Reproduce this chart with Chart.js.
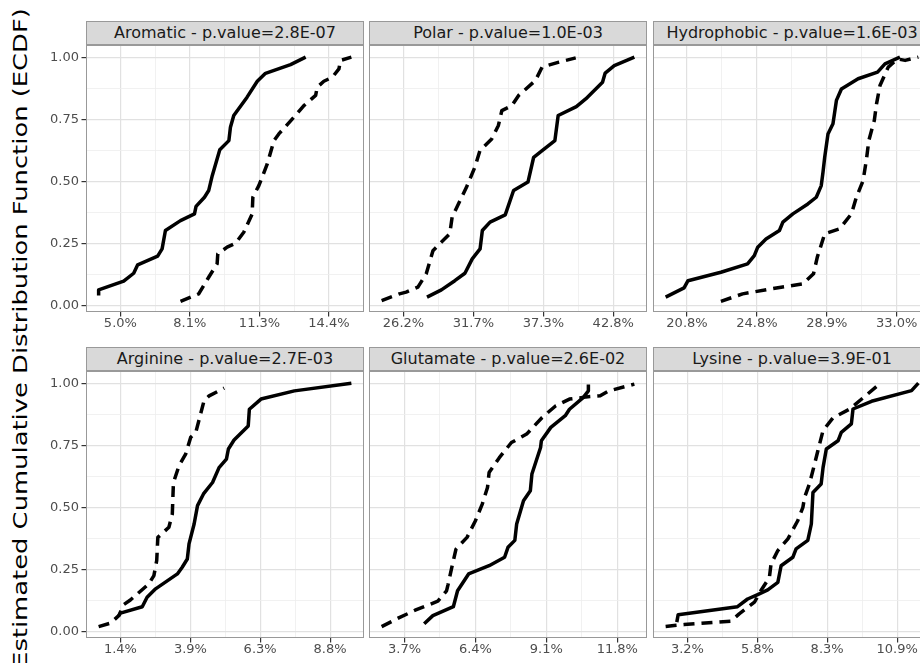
<!DOCTYPE html>
<html>
<head>
<meta charset="utf-8">
<script src="https://cdn.jsdelivr.net/npm/chart.js@4"></script>
<style>
  html, body { margin: 0; padding: 0; background: #fff; width: 920px; height: 663px; overflow: hidden; }
  #wrap { position: relative; width: 940px; height: 663px; font-family: "DejaVu Sans", sans-serif; }
  .strip {
    position: absolute; height: 24px; background: #d9d9d9; border: 1px solid #999;
    box-sizing: border-box; text-align: center; font-size: 16px; line-height: 22px;
    color: #1a1a1a; white-space: nowrap; overflow: hidden;
  }
  .panel { position: absolute; }
  #ytitle {
    position: absolute; width: 720px; height: 26px; left: -340px; top: 325px;
    transform: rotate(-90deg) scaleX(1.29); text-align: center; font-size: 20px; line-height: 26px;
    color: #000; white-space: nowrap;
  }
</style>
</head>
<body>
<div id="wrap">
  <div id="ytitle">Estimated Cumulative Distribution Function (ECDF)</div>
</div>
<script>
// panel titles (facet strips)
const panelTitles = [
  'Aromatic - p.value=2.8E-07',
  'Polar - p.value=1.0E-03',
  'Hydrophobic - p.value=1.6E-03',
  'Arginine - p.value=2.7E-03',
  'Glutamate - p.value=2.6E-02',
  'Lysine - p.value=3.9E-01'
];

// x breaks (percent) and their labels, per panel
const xTickValues = [
  [5.0, 8.13, 11.27, 14.4],
  [26.2, 31.73, 37.27, 42.8],
  [20.78, 24.84, 28.90, 32.96],
  [1.4, 3.87, 6.33, 8.8],
  [3.7, 6.4, 9.1, 11.8],
  [3.2, 5.77, 8.33, 10.9]
];
const xTickLabels = [
  ['5.0%', '8.1%', '11.3%', '14.4%'],
  ['26.2%', '31.7%', '37.3%', '42.8%'],
  ['20.8%', '24.8%', '28.9%', '33.0%'],
  ['1.4%', '3.9%', '6.3%', '8.8%'],
  ['3.7%', '6.4%', '9.1%', '11.8%'],
  ['3.2%', '5.8%', '8.3%', '10.9%']
];
const yTickValues = [0, 0.25, 0.5, 0.75, 1];
const yTickLabels = ['0.00', '0.25', '0.50', '0.75', '1.00'];

// ECDF curves [x %, F(x)] – solid group and dashed group
const aromaticSolid = [[4.02,0.04],[4.02,0.063],[5.15,0.098],[5.6,0.13],[5.78,0.164],[6.68,0.199],[6.88,0.228],[7.03,0.302],[7.71,0.342],[8.34,0.369],[8.41,0.399],[8.79,0.436],[8.98,0.463],[9.14,0.523],[9.48,0.627],[9.89,0.664],[9.96,0.718],[10.11,0.765],[10.71,0.839],[11.17,0.903],[11.54,0.935],[12.67,0.97],[13.35,1.0]];
const aromaticDashed = [[7.71,0.017],[8.53,0.047],[8.98,0.114],[9.36,0.168],[9.39,0.208],[9.81,0.235],[10.19,0.251],[10.56,0.295],[10.94,0.369],[10.97,0.436],[11.24,0.483],[11.62,0.57],[11.92,0.664],[12.14,0.691],[12.82,0.758],[13.27,0.805],[13.8,0.846],[13.87,0.879],[14.17,0.903],[14.55,0.919],[14.85,0.953],[14.92,0.987],[15.41,1.0]];

const polarSolid = [[28.06,0.034],[29.2,0.063],[30.26,0.1],[31.06,0.13],[31.64,0.188],[32.26,0.228],[32.44,0.302],[33.05,0.336],[34.25,0.365],[34.91,0.463],[36.05,0.497],[36.5,0.597],[37.17,0.624],[38.18,0.664],[38.44,0.765],[39.88,0.801],[40.62,0.832],[41.95,0.899],[42.16,0.936],[42.88,0.966],[44.47,1.0]];
const polarDashed = [[24.47,0.02],[25.88,0.047],[26.41,0.054],[27.34,0.074],[28.0,0.128],[28.53,0.221],[29.86,0.289],[30.05,0.356],[31.19,0.477],[31.85,0.557],[32.25,0.624],[33.18,0.671],[33.71,0.725],[33.98,0.785],[34.78,0.805],[35.31,0.846],[36.64,0.906],[37.17,0.96],[38.5,0.98],[39.83,0.997]];

const hydrophobicSolid = [[19.54,0.034],[20.61,0.071],[20.84,0.1],[22.75,0.134],[24.3,0.168],[24.69,0.201],[24.89,0.235],[25.37,0.268],[26.15,0.302],[26.35,0.336],[26.93,0.369],[27.8,0.409],[28.29,0.436],[28.58,0.483],[28.68,0.537],[28.78,0.597],[28.97,0.691],[29.26,0.732],[29.46,0.826],[29.75,0.872],[30.72,0.913],[31.85,0.94],[32.28,0.973],[33.15,1.0]];
const hydrophobicDashed = [[22.75,0.017],[24.01,0.047],[26.25,0.074],[27.51,0.087],[28.13,0.128],[28.35,0.195],[28.78,0.289],[29.65,0.309],[30.33,0.369],[30.62,0.436],[31.01,0.503],[31.21,0.591],[31.34,0.664],[31.66,0.745],[31.79,0.812],[31.99,0.886],[32.47,0.96],[33.02,0.993],[33.45,0.987],[34.22,1.0]];

const arginineSolid = [[1.34,0.064],[1.4,0.074],[2.17,0.1],[2.34,0.138],[2.64,0.172],[3.41,0.232],[3.58,0.259],[3.76,0.292],[3.82,0.353],[4.0,0.433],[4.12,0.507],[4.33,0.554],[4.65,0.6],[4.88,0.66],[5.14,0.694],[5.21,0.735],[5.41,0.771],[5.91,0.828],[5.95,0.895],[6.36,0.936],[7.54,0.969],[9.55,1.0]];
const arginineDashed = [[0.63,0.02],[1.05,0.034],[1.34,0.064],[1.52,0.109],[1.75,0.127],[2.4,0.192],[2.58,0.225],[2.68,0.286],[2.72,0.379],[3.11,0.42],[3.23,0.473],[3.27,0.6],[3.47,0.668],[3.7,0.714],[3.88,0.782],[4.06,0.802],[4.35,0.929],[4.53,0.949],[5.06,0.98]];

const glutamateSolid = [[4.45,0.031],[4.78,0.064],[5.56,0.1],[5.72,0.164],[6.14,0.232],[6.92,0.265],[7.51,0.299],[7.64,0.339],[7.9,0.367],[7.97,0.433],[8.23,0.527],[8.49,0.567],[8.55,0.634],[8.88,0.741],[8.91,0.768],[9.27,0.822],[9.82,0.869],[9.98,0.895],[10.5,0.942],[10.7,0.969],[10.7,0.995]];
const glutamateDashed = [[2.83,0.02],[3.48,0.055],[4.13,0.087],[4.97,0.122],[5.3,0.164],[5.36,0.19],[5.53,0.272],[5.66,0.332],[6.08,0.379],[6.4,0.446],[6.66,0.513],[6.86,0.58],[6.92,0.64],[7.31,0.7],[7.77,0.761],[8.35,0.795],[8.94,0.862],[9.46,0.909],[9.98,0.936],[10.76,0.946],[11.15,0.949],[11.48,0.969],[12.45,0.996]];

const lysineSolid = [[2.81,0.038],[2.86,0.068],[5.04,0.1],[5.41,0.131],[5.78,0.149],[6.15,0.168],[6.52,0.198],[6.64,0.265],[7.07,0.299],[7.19,0.333],[7.62,0.367],[7.75,0.433],[7.81,0.56],[8.11,0.594],[8.18,0.66],[8.3,0.735],[8.73,0.768],[8.85,0.802],[9.22,0.836],[9.28,0.896],[9.96,0.927],[11.43,0.97],[11.68,1.0]];
const lysineDashed = [[2.4,0.02],[2.71,0.024],[3.08,0.028],[4.8,0.042],[5.1,0.071],[5.66,0.118],[5.9,0.165],[6.21,0.218],[6.27,0.272],[6.52,0.326],[6.89,0.373],[7.25,0.446],[7.44,0.5],[7.5,0.54],[7.68,0.594],[7.87,0.675],[7.99,0.728],[8.18,0.809],[8.54,0.86],[9.16,0.896],[10.26,0.997]];

const solidSeries = [aromaticSolid, polarSolid, hydrophobicSolid, arginineSolid, glutamateSolid, lysineSolid];
const dashedSeries = [aromaticDashed, polarDashed, hydrophobicDashed, arginineDashed, glutamateDashed, lysineDashed];

// layout
const colLeft = [86, 369, 653];
const rowTop = [45, 371];
const panelW = 278, panelH = 267;
const yAxisW = 40, xAxisH = 28, stripH = 24;
const Y_MIN = -0.026, Y_MAX = 1.049;

const wrap = document.getElementById('wrap');

// panel border drawn above the data, like ggplot
const panelBorder = {
  id: 'panelBorder',
  afterDraw(chart) {
    const a = chart.chartArea, ctx = chart.ctx;
    ctx.save();
    ctx.strokeStyle = '#999';
    ctx.lineWidth = 1;
    ctx.strokeRect(a.left + 0.5, a.top + 0.5, a.right - a.left - 1, a.bottom - a.top - 1);
    ctx.restore();
  }
};

function withMinors(majors, min, max) {
  const step = majors[1] - majors[0];
  const vals = majors.slice();
  for (let k = 0; k < majors.length - 1; k++) vals.push((majors[k] + majors[k + 1]) / 2);
  vals.push(majors[0] - step / 2, majors[majors.length - 1] + step / 2);
  return vals.filter(v => v >= min && v <= max).sort((a, b) => a - b).map(v => ({ value: v }));
}

function gridStyle(majors) {
  const isMajor = c => c.tick && majors.includes(c.tick.value);
  return {
    color: c => isMajor(c) ? '#e1e1e1' : '#eeeeee',
    lineWidth: c => isMajor(c) ? 1.2 : 0.8,
    tickColor: c => isMajor(c) ? '#333' : 'rgba(0,0,0,0)',
    tickLength: 4.5
  };
}

panelTitles.forEach((title, i) => {
  const col = i % 3, row = Math.floor(i / 3);
  const left = col === 0;

  const strip = document.createElement('div');
  strip.className = 'strip';
  strip.style.left = colLeft[col] + 'px';
  strip.style.top = (rowTop[row] - stripH) + 'px';
  strip.style.width = panelW + 'px';
  strip.textContent = title;
  wrap.appendChild(strip);

  const canvas = document.createElement('canvas');
  canvas.className = 'panel';
  const w = panelW + (left ? yAxisW : 0);
  const h = panelH + xAxisH;
  canvas.width = w;
  canvas.height = h;
  canvas.style.left = (colLeft[col] - (left ? yAxisW : 0)) + 'px';
  canvas.style.top = rowTop[row] + 'px';
  wrap.appendChild(canvas);

  const solid = solidSeries[i], dashed = dashedSeries[i];
  const xs = solid.concat(dashed).map(p => p[0]);
  const xMin = Math.min(...xs), xMax = Math.max(...xs);
  const pad = (xMax - xMin) * 0.05;
  const majorsX = xTickValues[i];

  new Chart(canvas, {
    type: 'line',
    data: {
      datasets: [
        {
          data: solid.map(p => ({ x: p[0], y: p[1] })),
          borderColor: '#000',
          borderWidth: 3.5,
          pointRadius: 0,
          tension: 0,
          fill: false,
          borderJoinStyle: 'round'
        },
        {
          data: dashed.map(p => ({ x: p[0], y: p[1] })),
          borderColor: '#000',
          borderWidth: 3.5,
          borderDash: [11, 7],
          pointRadius: 0,
          tension: 0,
          fill: false,
          borderJoinStyle: 'round'
        }
      ]
    },
    options: {
      responsive: false,
      animation: false,
      devicePixelRatio: 1,
      layout: { padding: 0 },
      plugins: { legend: { display: false }, tooltip: { enabled: false } },
      scales: {
        x: {
          type: 'linear',
          min: xMin - pad,
          max: xMax + pad,
          afterBuildTicks: s => { s.ticks = withMinors(majorsX, s.min, s.max); },
          afterFit: s => { s.height = xAxisH; s.paddingLeft = 0; s.paddingRight = 0; },
          ticks: {
            autoSkip: false,
            maxRotation: 0,
            padding: -1,
            color: '#4d4d4d',
            font: { family: 'DejaVu Sans', size: 13 },
            callback: v => {
              const k = majorsX.indexOf(v);
              return k >= 0 ? xTickLabels[i][k] : '';
            }
          },
          grid: gridStyle(majorsX),
          border: { display: false }
        },
        y: {
          type: 'linear',
          min: Y_MIN,
          max: Y_MAX,
          afterBuildTicks: s => { s.ticks = withMinors(yTickValues, s.min, s.max); },
          afterFit: s => { s.width = left ? yAxisW : 0; s.paddingTop = 0; s.paddingBottom = 0; },
          ticks: {
            display: left,
            autoSkip: false,
            padding: 2.5,
            color: '#4d4d4d',
            font: { family: 'DejaVu Sans', size: 13 },
            callback: v => {
              const k = yTickValues.indexOf(v);
              return k >= 0 ? yTickLabels[k] : '';
            }
          },
          grid: Object.assign(gridStyle(yTickValues), { drawTicks: left }),
          border: { display: false }
        }
      }
    },
    plugins: [panelBorder]
  });
});
</script>
</body>
</html>
